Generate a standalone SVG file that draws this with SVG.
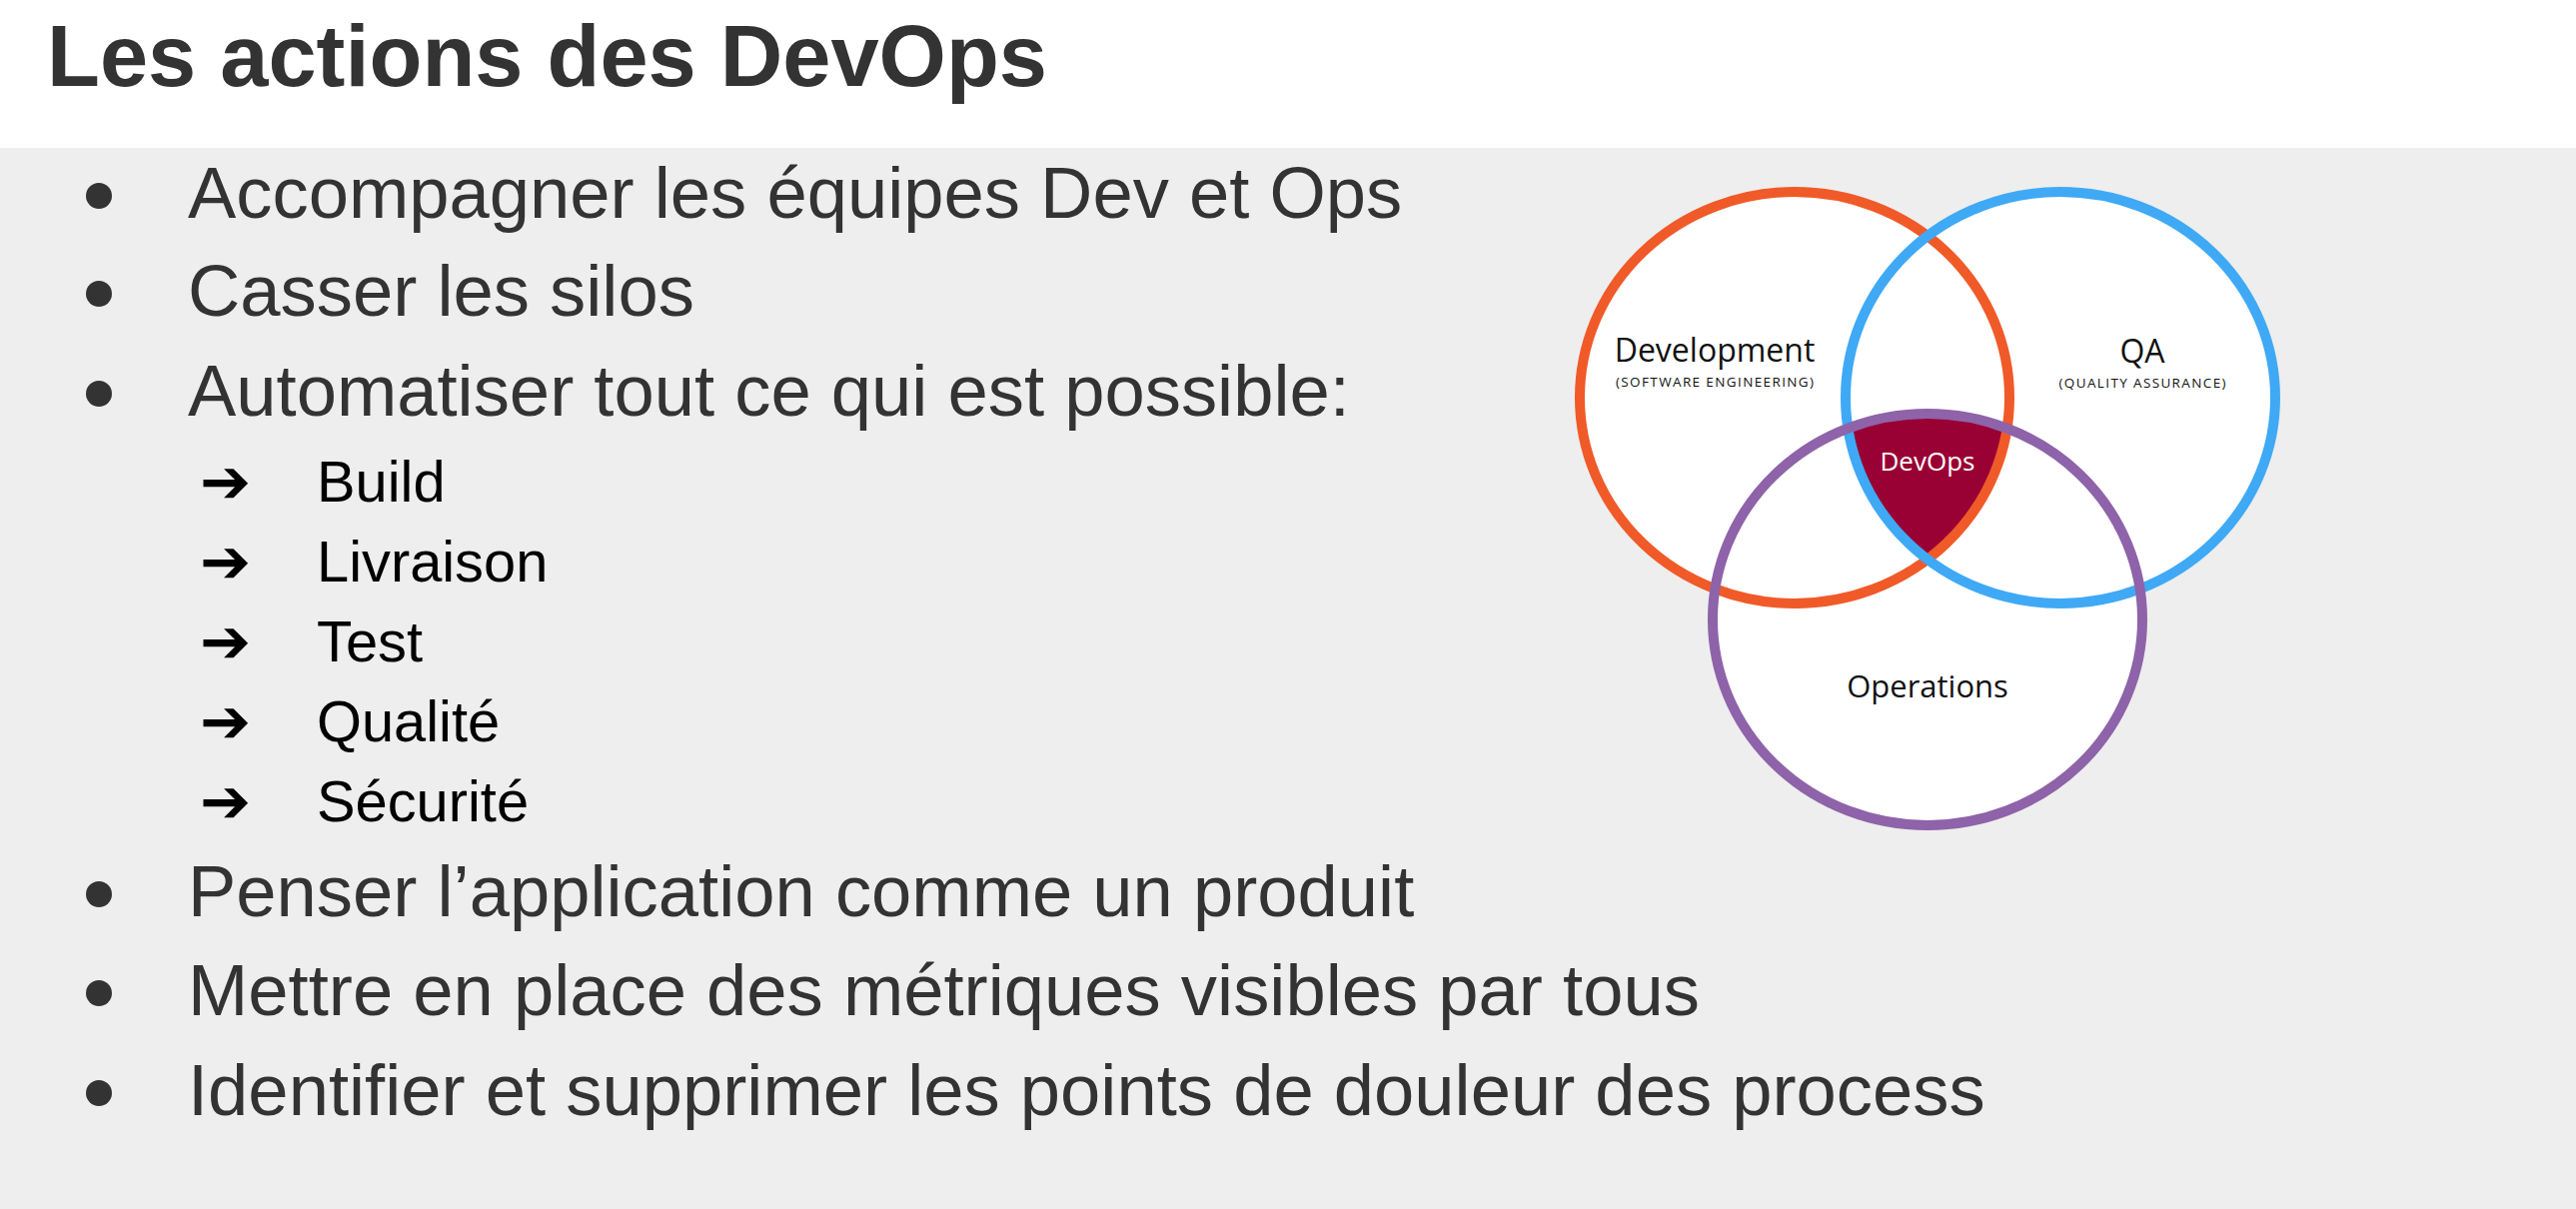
<svg xmlns="http://www.w3.org/2000/svg" width="2578" height="1210" viewBox="0 0 2578 1210">
<style>
.title{font-family:"Liberation Sans",Arial,sans-serif;font-weight:bold;font-size:86.6px;fill:#333333}
.item{font-family:"Liberation Sans",Arial,sans-serif;font-size:72.4px;fill:#333333}
.sub{font-family:"Liberation Sans",Arial,sans-serif;font-size:57.8px;fill:#000000}
.arrow{font-family:"DejaVu Sans",sans-serif;font-size:61px;fill:#000000}
.dot{fill:#333333}
.vlabel{font-family:"Open Sans","Noto Sans",sans-serif;fill:#111111;text-anchor:middle}
.ring{fill:none;stroke-width:10}
</style>
<defs>
<clipPath id="clipDev"><ellipse cx="1796" cy="398" rx="215" ry="206"/></clipPath>
<clipPath id="clipQA"><ellipse cx="2062" cy="398" rx="215" ry="206"/></clipPath>
</defs>
<rect x="0" y="0" width="2578" height="1210" fill="#ffffff"/>
<rect x="0" y="148" width="2578" height="1062" fill="#eeeeee"/>
<text class="title" x="47" y="86">Les actions des DevOps</text>
<g id="bullets">
<circle class="dot" cx="99" cy="196" r="13"/>
<text class="item" x="188" y="218">Accompagner les équipes Dev et Ops</text>
<circle class="dot" cx="99" cy="294" r="13"/>
<text class="item" x="188" y="316">Casser les silos</text>
<circle class="dot" cx="99" cy="394" r="13"/>
<text class="item" x="188" y="416">Automatiser tout ce qui est possible:</text>
<text class="arrow" x="200" y="503">➔</text>
<text class="sub" x="317" y="502">Build</text>
<text class="arrow" x="200" y="583">➔</text>
<text class="sub" x="317" y="582">Livraison</text>
<text class="arrow" x="200" y="663">➔</text>
<text class="sub" x="317" y="662">Test</text>
<text class="arrow" x="200" y="743">➔</text>
<text class="sub" x="317" y="742">Qualité</text>
<text class="arrow" x="200" y="823">➔</text>
<text class="sub" x="317" y="822">Sécurité</text>
<circle class="dot" cx="99" cy="895" r="13"/>
<text class="item" x="188" y="917">Penser l’application comme un produit</text>
<circle class="dot" cx="99" cy="994" r="13"/>
<text class="item" x="188" y="1016">Mettre en place des métriques visibles par tous</text>
<circle class="dot" cx="99" cy="1094" r="13"/>
<text class="item" x="188" y="1116">Identifier et supprimer les points de douleur des process</text>
</g>
<g id="venn">
<g id="fills">
<ellipse cx="1796" cy="398" rx="215" ry="206" fill="#ffffff"/>
<ellipse cx="2062" cy="398" rx="215" ry="206" fill="#ffffff"/>
<ellipse cx="1929" cy="620" rx="215" ry="206" fill="#ffffff"/>
</g>
<g id="devops-area" clip-path="url(#clipDev)"><g clip-path="url(#clipQA)">
<ellipse cx="1929" cy="620" rx="215" ry="206" fill="#990033"/>
</g></g>
<g id="node-development">
<ellipse class="ring" cx="1796" cy="398" rx="215" ry="206" stroke="#f05a28"/>
<text class="vlabel" x="1716" y="362" font-size="32">Development</text>
<text class="vlabel" x="1716" y="387" font-size="13.5" textLength="198" lengthAdjust="spacing">(SOFTWARE ENGINEERING)</text>
</g>
<g id="node-qa">
<ellipse class="ring" cx="2062" cy="398" rx="215" ry="206" stroke="#3fa9f5"/>
<text class="vlabel" x="2144" y="363" font-size="32">QA</text>
<text class="vlabel" x="2144" y="388" font-size="13.5" textLength="167" lengthAdjust="spacing">(QUALITY ASSURANCE)</text>
</g>
<g id="node-operations">
<ellipse class="ring" cx="1929" cy="620" rx="215" ry="206" stroke="#8e63a9"/>
<text class="vlabel" x="1929" y="698" font-size="31">Operations</text>
</g>
<g id="node-devops">
<text class="vlabel" x="1929" y="471" font-size="26" style="fill:#ffffff">DevOps</text>
</g>
</g>
</svg>
